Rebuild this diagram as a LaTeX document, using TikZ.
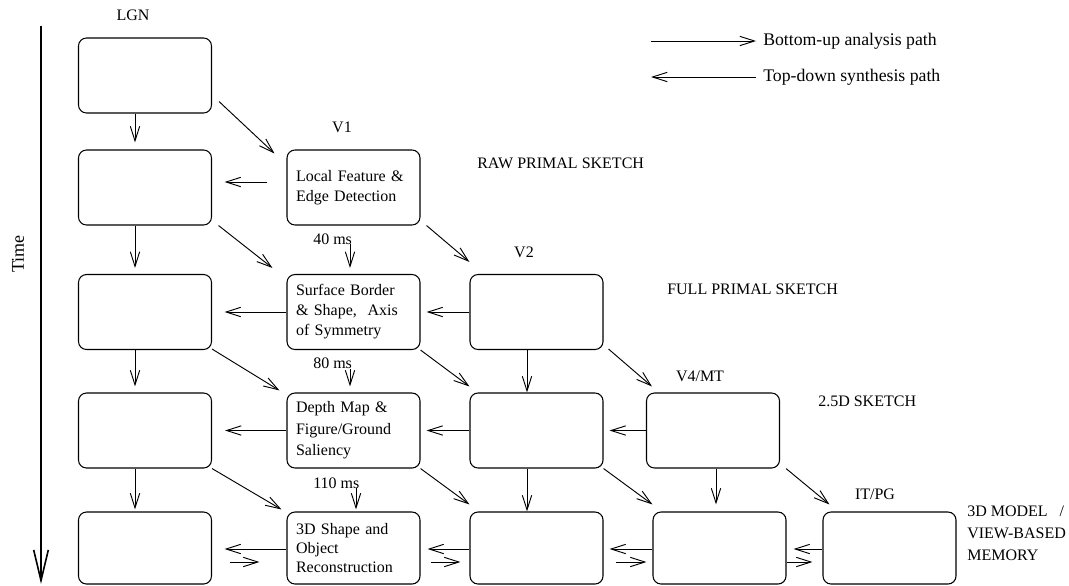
\documentclass[tikz,border=0pt]{standalone}
\usepackage{fontspec}
\setmainfont{Liberation Serif}
\usetikzlibrary{arrows.meta,calc}
\begin{document}
\begin{tikzpicture}[x=0.75pt,y=-0.75pt,
	every node/.style={font=\fontsize{12}{15}\selectfont},
	box/.style={draw,line width=0.8pt,rounded corners=6pt,minimum height=56.25pt,text width=86.25pt,inner xsep=6.75pt,align=left},
	arr/.style={line width=0.7pt,-{Straight Barb[length=11pt,width=7pt]}},
	lbl/.style={inner sep=0pt}]
\useasboundingbox (0,0) rectangle (1069,585);

\coordinate (ttop) at (41,26);
\coordinate (tbot) at (41,584);
\draw[line width=1.2pt,-{Straight Barb[length=23pt,width=11pt]}] (ttop) -- (tbot);
\node[lbl,rotate=90,font=\fontsize{13.5}{16}\selectfont] (time) at (18,254) {Time};

\node[lbl,anchor=west,font=\fontsize{13.3}{16}\selectfont] (bu) at (763,41) {Bottom-up analysis path};
\node[lbl,anchor=west,font=\fontsize{13.3}{16}\selectfont] (td) at (763,77) {Top-down synthesis path};
\draw[arr] ($(bu.west)+(-112,0)$) -- ($(bu.west)+(-7,0)$);
\draw[arr] ($(td.west)+(-7,0)$) -- ($(td.west)+(-112,0)$);

\node[box] (b11) at (145,75.5) {};
\node[box] (b21) at (145,187.5) {};
\node[box] (b22) at (353.5,187.5) {Local Feature \&\\Edge Detection};
\node[box] (b31) at (145,312) {};
\node[box] (b32) at (353.5,312) {Surface Border\\\& Shape,\ \ Axis\\of Symmetry};
\node[box] (b33) at (536.5,312) {};
\node[box] (b41) at (145,430.5) {};
\node[box,font=\fontsize{12}{16.2}\selectfont] (b42) at (353.5,430.5) {Depth Map \&\\Figure/Ground\\Saliency};
\node[box] (b43) at (536.5,430.5) {};
\node[box] (b44) at (713,430.5) {};
\node[box,minimum height=54pt] (b51) at (145,548) {};
\node[box,minimum height=54pt,font=\fontsize{12}{14.4}\selectfont] (b52) at (353.5,548) {3D Shape and\\Object\\Reconstruction};
\node[box,minimum height=54pt] (b53) at (536.5,548) {};
\node[box,minimum height=54pt] (b54) at (719.5,548) {};
\node[box,minimum height=54pt] (b55) at (889.5,548) {};

\node[lbl] (lgn) at (133,15) {LGN};
\node[lbl] (v1) at (342,127) {V1};
\node[lbl] (v2) at (524,252) {V2};
\node[lbl] (v4) at (700,376) {V4/MT};
\node[lbl] (it) at (875,494) {IT/PG};
\node[lbl,anchor=west] (raw) at (477,163) {RAW PRIMAL SKETCH};
\node[lbl,anchor=west] (full) at (667,289) {FULL PRIMAL SKETCH};
\node[lbl,anchor=west] (twohalf) at (818,401) {2.5D SKETCH};
\node[lbl,anchor=north west,align=left,font=\fontsize{12}{16.5}\selectfont] (model) at (967,506) {3D MODEL\hspace{9pt}/\\VIEW-BASED\\MEMORY};
\node[lbl,anchor=west] (ms40) at (313,239) {40 ms};
\node[lbl,anchor=west] (ms80) at (313,363) {80 ms};
\node[lbl,anchor=west] (ms110) at (313,483) {110 ms};

\draw[arr] ($(b11.south)+(-10,0)$) -- ($(b21.north)+(-10,-7)$);
\draw[arr] ($(b21.south)+(-10,0)$) -- ($(b31.north)+(-10,-6)$);
\draw[arr] ($(b31.south)+(-10,0)$) -- ($(b41.north)+(-10,-6)$);
\draw[arr] ($(b41.south)+(-10,0)$) -- ($(b51.north)+(-10,-2)$);
\draw[arr] ($(b22.south)+(-3.5,18)$) -- ($(b32.north)+(-3.5,-6)$);
\draw[arr] ($(b32.south)+(-3.5,19)$) -- ($(b42.north)+(-3.5,-6)$);
\draw[arr] ($(b42.south)+(2.5,19)$) -- ($(b52.north)+(2.5,-2)$);
\draw[arr] ($(b33.south)+(-9.5,0)$) -- ($(b43.north)+(-9.5,0)$);
\draw[arr] ($(b43.south)+(-9.5,0)$) -- ($(b53.north)+(-9.5,0)$);
\draw[arr] ($(b44.south)+(3,0)$) -- ($(b54.north)+(-3.5,-7)$);

\draw[arr] ($(b11.south east)+(7,-12)$) -- ($(b22.north west)+(-12,4)$);
\draw[arr] ($(b21.south east)+(6.5,0)$) -- ($(b32.north west)+(-14,-6)$);
\draw[arr] ($(b22.south east)+(6,0)$) -- ($(b33.north west)+(0,-12)$);
\draw[arr] ($(b31.south east)+(0,-1)$) -- ($(b42.north west)+(-7,-2)$);
\draw[arr] (b32.south east) -- ($(b43.north west)+(0,-6)$);
\draw[arr] ($(b33.south east)+(5,-1)$) -- ($(b44.north west)+(6,-6)$);
\draw[arr] (b41.south east) -- ($(b52.north west)+(-5,-2)$);
\draw[arr] (b42.south east) -- ($(b53.north west)+(0,-7)$);
\draw[arr] (b43.south east) -- ($(b54.north west)+(0,-7)$);
\draw[arr] ($(b44.south east)+(6,0)$) -- ($(b55.north west)+(7,-7)$);

\draw[arr] ($(b22.west)+(-19,-5.5)$) -- ($(b21.east)+(12.5,-5.5)$);
\draw[arr] (b32.west) -- ($(b31.east)+(12.5,0)$);
\draw[arr] (b33.west) -- ($(b32.east)+(6,0)$);
\draw[arr] (b42.west) -- ($(b41.east)+(13,0)$);
\draw[arr] (b43.west) -- ($(b42.east)+(6,0)$);
\draw[arr] (b44.west) -- ($(b43.east)+(6,0)$);
\draw[arr] ($(b52.west)+(0,1)$) -- ($(b51.east)+(12.5,1)$);
\draw[arr] ($(b53.west)+(0,1)$) -- ($(b52.east)+(7,1)$);
\draw[arr] ($(b54.west)+(0,1)$) -- ($(b53.east)+(6,1)$);
\draw[arr] ($(b55.west)+(0,1)$) -- ($(b54.east)+(7,1)$);
\draw[arr] ($(b51.east)+(17.5,14)$) -- ($(b52.west)+(-27,14)$);
\draw[arr] ($(b52.east)+(10,14)$) -- ($(b53.west)+(-9,14)$);
\draw[arr] ($(b53.east)+(12,14)$) -- ($(b54.west)+(-6,14)$);
\draw[arr] ($(b54.east)+(0,14)$) -- ($(b55.west)+(-10,14)$);
\end{tikzpicture}
\end{document}
